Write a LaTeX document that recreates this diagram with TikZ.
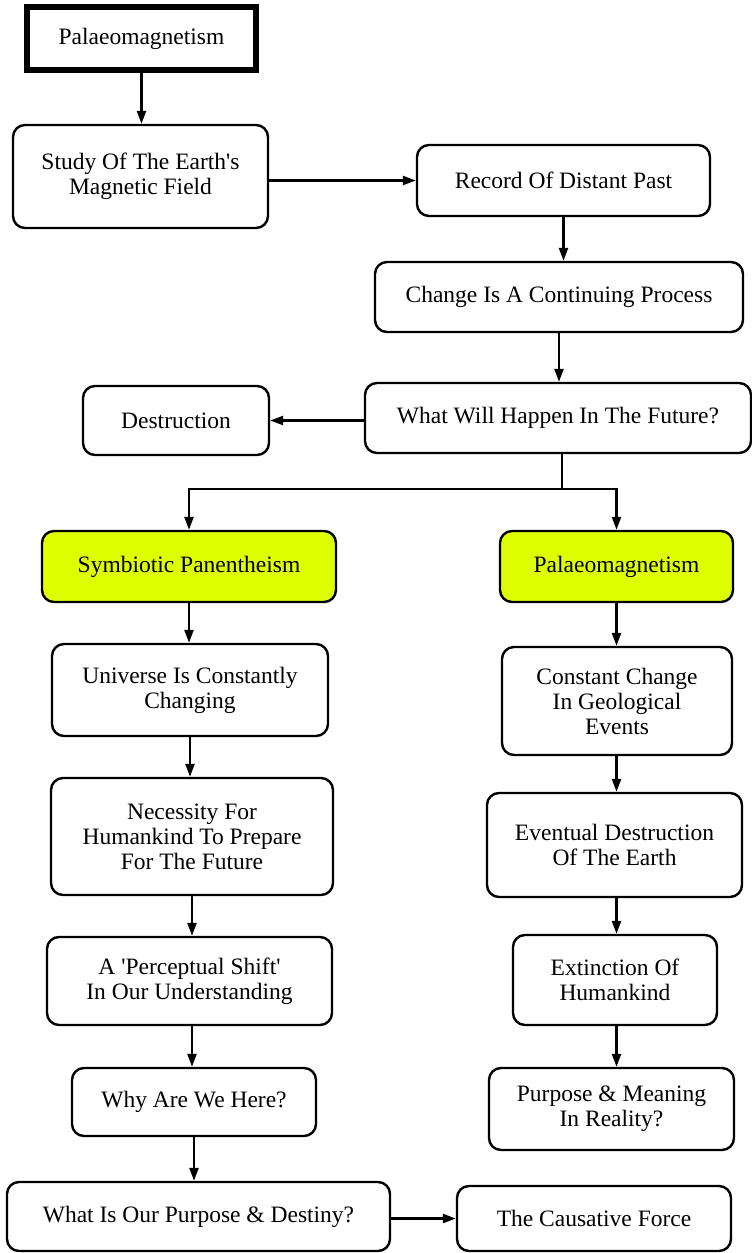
\documentclass[tikz,border=0pt]{standalone}
\usepackage{fontspec}
\setmainfont{Liberation Serif}
\usetikzlibrary{arrows.meta,calc}
\definecolor{hilite}{RGB}{222,255,0}
\begin{document}
\begin{tikzpicture}[x=1pt,y=-1pt,
  every node/.style={font=\fontsize{23.5}{25}\selectfont, align=center, inner sep=0pt},
  flowbox/.style={draw, line width=2.4pt, rounded corners=12pt, fill=white},
  hlbox/.style={flowbox, fill=hilite},
  topbox/.style={draw, line width=6pt, fill=white},
  conn/.style={line width=2.4pt, -{Triangle[length=13pt,width=9pt]}},
  plain/.style={line width=2.4pt}]
\useasboundingbox[fill=white] (0,0) rectangle (752,1253);

\node[topbox, minimum width=229pt, minimum height=63pt] (p1) at (141.5,38.5) {Palaeomagnetism};
\node[flowbox, minimum width=255pt, minimum height=103pt] (study) at (140.5,176.5) {Study Of The Earth\textquotesingle s\\Magnetic Field};
\node[flowbox, minimum width=293pt, minimum height=71pt] (record) at (563.5,180.5) {Record Of Distant Past};
\node[flowbox, minimum width=368pt, minimum height=70pt] (change) at (559,297) {Change Is A Continuing Process};
\node[flowbox, minimum width=386pt, minimum height=70pt] (future) at (558,418) {What Will Happen In The Future?};
\node[flowbox, minimum width=186pt, minimum height=69pt] (destr) at (176,420.5) {Destruction};

\node[hlbox, minimum width=294pt, minimum height=71pt] (symb) at (189,566.5) {Symbiotic Panentheism};
\node[hlbox, minimum width=233pt, minimum height=71pt] (palaeo) at (616.5,566.5) {Palaeomagnetism};

\node[flowbox, minimum width=276pt, minimum height=92pt] (univ) at (190,690) {Universe Is Constantly\\Changing};
\node[flowbox, minimum width=282pt, minimum height=117pt] (necess) at (192,836.5) {Necessity For\\Humankind To Prepare\\For The Future};
\node[flowbox, minimum width=285pt, minimum height=88pt] (percep) at (189.5,981) {A \textquotesingle Perceptual Shift\textquotesingle\\In Our Understanding};
\node[flowbox, minimum width=244pt, minimum height=68pt] (why) at (194,1102) {Why Are We Here?};
\node[flowbox, minimum width=383pt, minimum height=69pt] (whatis) at (198.5,1216.5) {What Is Our Purpose \& Destiny?};
\node[flowbox, minimum width=274pt, minimum height=65pt] (cause) at (594,1218.5) {The Causative Force};

\node[flowbox, minimum width=230pt, minimum height=108pt] (const) at (617,701) {Constant Change\\In Geological\\Events};
\node[flowbox, minimum width=255pt, minimum height=104pt] (event) at (614.5,845) {Eventual Destruction\\Of The Earth};
\node[flowbox, minimum width=204pt, minimum height=90pt] (extinct) at (615,980) {Extinction Of\\Humankind};
\node[flowbox, minimum width=245pt, minimum height=82pt] (purpose) at (611.5,1109) {Purpose \& Meaning\\In Reality?};

\draw[conn] (p1.south) -- (p1.south |- study.north);
\draw[conn] (study.east |- record.west) -- (record.west);
\draw[conn] (record.south) -- (record.south |- change.north);
\draw[conn] (change.south) -- (change.south |- future.north);
\draw[conn] (future.west |- destr.east) -- (destr.east);

\coordinate (split) at ($(future.south)+(4,35)$);
\draw[plain] (split |- future.south) -- (split);
\draw[conn] (split) -| (symb.north);
\draw[conn] (split) -| (palaeo.north);

\draw[conn] (symb.south) -- (symb.south |- univ.north);
\draw[conn] (univ.south) -- (univ.south |- necess.north);
\draw[conn] (necess.south) -- (necess.south |- percep.north);
\draw[conn] (percep.south -| necess.south) -- (necess.south |- why.north);
\draw[conn] (why.south) -- (why.south |- whatis.north);
\draw[conn] (whatis.east |- cause.west) -- (cause.west);

\draw[conn] (palaeo.south) -- (palaeo.south |- const.north);
\draw[conn] (const.south -| palaeo.south) -- (palaeo.south |- event.north);
\draw[conn] (event.south -| palaeo.south) -- (palaeo.south |- extinct.north);
\draw[conn] (extinct.south -| palaeo.south) -- (palaeo.south |- purpose.north);
\end{tikzpicture}
\end{document}
